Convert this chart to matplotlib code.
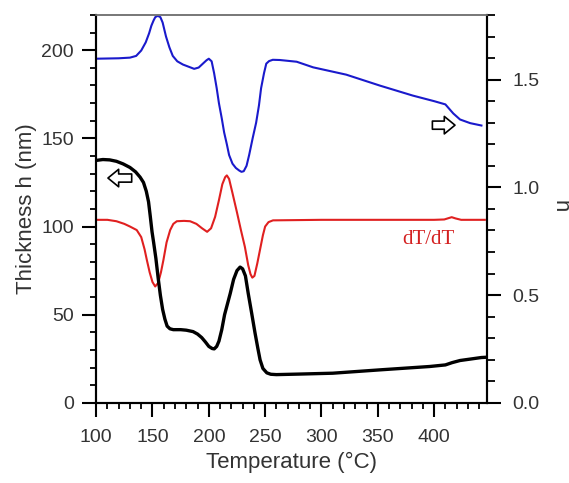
import matplotlib
matplotlib.use("Agg")
import matplotlib.pyplot as plt
from matplotlib.ticker import MultipleLocator

plt.rcParams['font.family'] = ['Liberation Sans', 'DejaVu Sans']

# thickness h (nm), left axis
t_h = [100, 106, 112, 118, 124, 130, 135, 139, 142, 144.5, 146.5, 148, 149.6, 151, 153, 155,
       157, 159, 161, 163, 165.5, 168.5, 175, 180, 186, 190, 193.7, 197, 200, 203, 204.8,
       207, 209, 211.5, 214, 216.5, 219, 222, 225, 227.8, 230, 232.5, 235, 238, 241, 243.5,
       245.5, 248, 251.5, 255, 260, 280, 310, 352, 396, 410, 416, 423, 432, 442, 445]
h = [137.5, 138, 137.8, 137, 135.5, 133.5, 131, 128, 125, 120, 114, 106, 97, 91, 82, 71,
     61, 53, 47.5, 43.5, 42, 41.5, 41.5, 41.2, 40.4, 39, 37, 34.5, 32, 30.8, 30.6,
     32, 35, 41.5, 50, 56, 62, 70, 75, 77, 76, 72, 62, 51, 39.7, 31,
     24.4, 19.5, 17, 16.2, 16, 16.3, 16.8, 18.7, 20.6, 21.5, 22.8, 24, 24.8, 25.7, 25.8]

# refractive index n, right axis
t_n = [100, 110, 120, 130, 135.5, 140, 144, 147, 149, 151, 152.5, 154.7, 157, 159, 162, 165,
       168, 172, 177, 182, 187, 191, 194.7, 198, 200, 202.5, 204.7, 207, 209, 211.5, 213.6,
       216, 218, 221, 224, 227, 229, 231, 233.5, 235.8, 239, 242, 244.5, 246.4, 249, 251,
       253.5, 256.8, 263, 278, 292.6, 322, 352, 381, 400, 410, 417, 423, 432, 442]
n = [1.597, 1.598, 1.599, 1.602, 1.61, 1.635, 1.673, 1.715, 1.75, 1.775, 1.79, 1.796, 1.79, 1.765, 1.70, 1.65,
     1.61, 1.585, 1.57, 1.56, 1.55, 1.556, 1.574, 1.59, 1.597, 1.585, 1.53, 1.46, 1.39, 1.32, 1.255,
     1.20, 1.15, 1.11, 1.09, 1.078, 1.072, 1.075, 1.10, 1.15, 1.23, 1.30, 1.38, 1.46, 1.53, 1.574,
     1.586, 1.592, 1.591, 1.583, 1.557, 1.523, 1.472, 1.426, 1.40, 1.385, 1.343, 1.315, 1.298, 1.287]

# dT/dT, left axis units
t_d = [100, 110, 118, 125, 130, 136, 140, 143, 145, 147.5, 150, 152.4, 155, 157.5, 159.7, 162.5,
       165.7, 168.5, 171.6, 178, 183.4, 189, 194, 198.5, 202, 205.6, 209, 212, 214.5, 216,
       218, 221, 225, 228.5, 232, 235, 237, 238.6, 240.5, 243, 245.5, 248, 250, 253, 257,
       300, 350, 400, 409, 413, 415.6, 419, 424, 445]
d = [103.8, 103.8, 103, 101.5, 100, 98, 94, 87, 81, 74, 68.5, 66, 68, 74, 81, 91,
     98, 101.5, 103, 103.2, 103, 101.5, 99, 97, 99, 105.5, 115, 124, 128, 129,
     127, 119, 108, 98, 88.5, 78, 73, 71, 72, 79, 87, 95, 100, 102.5, 103.5,
     103.8, 103.8, 103.8, 104, 104.8, 105.3, 104.6, 103.8, 103.8]

fig = plt.figure(figsize=(5.69, 4.83), dpi=100)
ax = fig.add_axes([0.169, 0.166, 0.687, 0.803])
ax2 = ax.twinx()

ax.plot(t_h, h, color="black", lw=2.4, zorder=3)
ax.plot(t_d, d, color="#e02020", lw=1.5, zorder=2)
ax2.plot(t_n, n, color="#1a1acc", lw=1.5)

ax.set_xlim(100, 447)
ax.set_ylim(0, 220)
ax2.set_ylim(0, 1.8)

ax.xaxis.set_major_locator(MultipleLocator(50))
ax.xaxis.set_minor_locator(MultipleLocator(10))
ax.yaxis.set_major_locator(MultipleLocator(50))
ax.yaxis.set_minor_locator(MultipleLocator(10))
ax2.yaxis.set_major_locator(MultipleLocator(0.5))
ax2.yaxis.set_minor_locator(MultipleLocator(0.1))
ax2.yaxis.set_major_formatter(plt.FormatStrFormatter('%.1f'))

for a in (ax, ax2):
    a.tick_params(which="major", direction="out", length=10, width=1.5, labelsize=14,
                  colors="black", labelcolor="#333333")
    a.tick_params(which="minor", direction="out", length=4.5, width=1.3)
    for s in a.spines.values():
        s.set_linewidth(1.5)
    a.spines["top"].set_color("#777777")
    a.spines["top"].set_linewidth(1.2)
ax.tick_params(axis="x", pad=9)
ax.tick_params(axis="y", pad=6)
ax2.tick_params(axis="y", which="major", pad=8)
ax2.tick_params(axis="y", which="minor", length=6)

ax.set_xlabel("Temperature (\u00b0C)", fontsize=16, color="#333333", labelpad=4)
ax.set_ylabel("Thickness h (nm)", fontsize=16, color="#333333", labelpad=3)
fig.text(560 / 569, 1 - 206 / 483, "n", fontsize=16, color="#333333", rotation=270,
         ha="center", va="center")

ax.text(395, 92.5, "dT/dT", color="#d42020", fontsize=15, ha="center", va="center",
        family=["Liberation Serif", "DejaVu Serif"])

arrow = dict(arrowstyle="simple,head_length=0.55,head_width=0.9,tail_width=0.42",
             fc="white", ec="black", lw=1.2, mutation_scale=14)
ax.annotate("", xy=(108, 127.5), xytext=(134, 127.5), arrowprops=arrow)
ax.annotate("", xy=(421, 157.5), xytext=(396, 157.5), arrowprops=arrow)

fig.savefig("out.png", dpi=100)
